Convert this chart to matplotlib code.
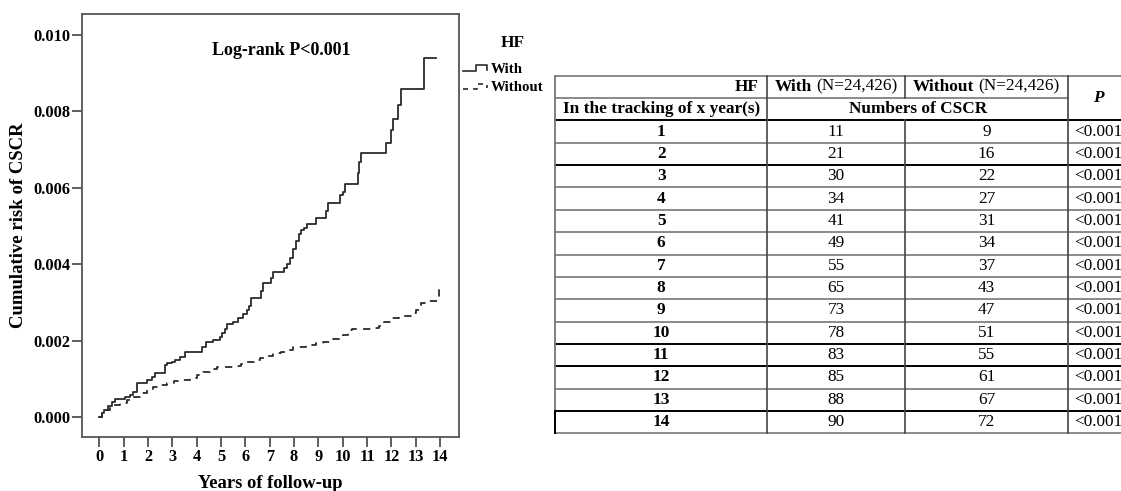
import matplotlib
matplotlib.use("Agg")
import matplotlib.pyplot as plt

plt.rcParams['font.family'] = ['Liberation Serif', 'DejaVu Serif']

# Kaplan-Meier type cumulative risk (step, where='post')
with_t = [0, 0.1, 0.2, 0.37, 0.5, 0.64, 1.05, 1.26, 1.4, 1.53, 1.94, 2.15, 2.28,
          2.68, 2.77, 2.97, 3.1, 3.3, 3.5, 4.2, 4.38, 4.68, 4.96, 5.05, 5.15, 5.25,
          5.5, 5.7, 5.9, 6.05, 6.15, 6.22, 6.65, 6.72, 7.05, 7.15, 7.58, 7.7, 7.85,
          7.95, 8.1, 8.2, 8.3, 8.4, 8.55, 8.9, 9.3, 9.4, 9.9, 10.0, 10.1, 10.64,
          10.68, 10.75, 11.77, 12.0, 12.05, 12.29, 12.4, 13.34, 13.84]
with_r = [0, 0.0001, 0.00019, 0.0003, 0.0004, 0.00048, 0.00054, 0.00058, 0.00067,
          0.00089, 0.00098, 0.00106, 0.00115, 0.00137, 0.00143, 0.00145, 0.0015,
          0.00158, 0.0017, 0.00185, 0.00196, 0.00202, 0.00209, 0.0022, 0.00232,
          0.00243, 0.00248, 0.00259, 0.0027, 0.0028, 0.0029, 0.00312, 0.0033, 0.0035,
          0.00364, 0.0038, 0.0039, 0.004, 0.00417, 0.0044, 0.0046, 0.0048, 0.0049,
          0.00496, 0.00505, 0.0052, 0.0054, 0.0056, 0.0058, 0.0059, 0.0061, 0.0064,
          0.00668, 0.0069, 0.00716, 0.0075, 0.0078, 0.00816, 0.00858, 0.00939, 0.00939]

without_t = [0, 0.1, 0.27, 0.45, 0.6, 0.85, 1.12, 1.4, 1.67, 1.95, 2.21, 2.5, 2.76,
             3.05, 3.31, 3.72, 4.0, 4.27, 4.55, 4.82, 5.5, 5.8, 6.05, 6.35, 6.6, 6.9,
             7.15, 7.45, 7.7, 7.97, 8.5, 8.9, 9.2, 9.6, 10.02, 10.23, 10.4, 11.2, 11.5,
             11.7, 12.0, 12.3, 12.85, 13.0, 13.2, 13.5, 13.93, 13.95]
without_r = [0, 0.0001, 0.0002, 0.00026, 0.00032, 0.00038, 0.00045, 0.00054, 0.00063,
             0.00072, 0.0008, 0.00085, 0.0009, 0.00094, 0.00098, 0.00104, 0.0011,
             0.00119, 0.00126, 0.00132, 0.00134, 0.00139, 0.00144, 0.00149, 0.00154,
             0.0016, 0.00167, 0.00171, 0.00176, 0.00185, 0.00189, 0.00194, 0.00198,
             0.00205, 0.00215, 0.00228, 0.00232, 0.00234, 0.0024, 0.0025, 0.0026,
             0.00265, 0.00272, 0.0028, 0.00298, 0.00305, 0.00315, 0.0035]

x_ticks = list(range(0, 15))
y_ticks = [0.000, 0.002, 0.004, 0.006, 0.008, 0.010]

# table
years = list(range(1, 15))
with_counts = [11, 21, 30, 34, 41, 49, 55, 65, 73, 78, 83, 85, 88, 90]
without_counts = [9, 16, 22, 27, 31, 34, 37, 43, 47, 51, 55, 61, 67, 72]
p_values = ['<0.001'] * 14

W, H = 1121, 491
fig = plt.figure(figsize=(W / 100, H / 100), dpi=100)

# --- survival plot ---
L, R, T, B = 81.7, 459, 14, 436.7
ax = fig.add_axes([L / W, 1 - B / H, (R - L) / W, (B - T) / H])
line_col = '#2b2b2b'
ax.step(with_t, with_r, where='post', color=line_col, lw=1.3)
ax.step(without_t, without_r, where='post', color=line_col, lw=1.3,
        linestyle=(0, (4, 3.5)))
ax.set_xlim(-0.727, 14.78)
ax.set_ylim(-0.000507, 0.010544)
ax.set_xticks(x_ticks)
ax.set_yticks(y_ticks)
ax.set_yticklabels(['%.3f' % v for v in y_ticks])
ax.tick_params(axis='both', direction='out', length=7, width=1.1, color='#333',
               labelsize=11.8)
ax.tick_params(axis='y', pad=1)
ax.tick_params(axis='x', pad=2)
for lab in ax.get_xticklabels() + ax.get_yticklabels():
    lab.set_fontweight('bold')
for sp in ax.spines.values():
    sp.set_color('#555555')
    sp.set_linewidth(1.3)

# overlay in pixel coordinates for free text / table
ov = fig.add_axes([0, 0, 1, 1])
ov.set_xlim(0, W)
ov.set_ylim(H, 0)
ov.axis('off')

ov.text(281, 50, 'Log-rank P<0.001', ha='center', va='center', fontsize=13,
        weight='bold')
ov.text(19, (T + B) / 2, 'Cumulative risk of CSCR', ha='center', va='center',
        rotation=90, fontsize=13.5, weight='bold')
ov.text((L + R) / 2, 484, 'Years of follow-up', ha='center', va='center',
        fontsize=13.4, weight='bold')

# legend
ov.text(513, 43, 'HF', ha='center', va='center', fontsize=12.5, weight='bold')
ov.plot([463, 476, 476, 487, 487], [70.7, 70.7, 65, 65, 69.5], color=line_col, lw=1.2)
ov.plot([463, 477, 477, 487, 487], [88.7, 88.7, 84, 84, 88], color=line_col, lw=1.2,
        linestyle=(0, (3, 3)))
ov.text(491, 69, 'With', ha='left', va='center', fontsize=10.7, weight='bold')
ov.text(491, 87, 'Without', ha='left', va='center', fontsize=10.7, weight='bold')

# --- table ---
fs = 12.4
c0, c1, c2, c3, c4 = 555, 767.3, 905, 1068, 1128
top = 75.7
rh = 22.35
n_rows = len(years) + 2
ys = [top + i * rh for i in range(n_rows + 1)]
grey = '#777777'

# horizontal lines (some of them are darker in the original)
dark_lines = {2, 4, 12, 13, 15}
for i, y in enumerate(ys):
    if i == 1:
        ov.plot([c0, c3], [y, y], color=grey, lw=1.2)
    elif i in dark_lines:
        ov.plot([c0, c4], [y, y], color='black', lw=1.4)
    else:
        ov.plot([c0, c4], [y, y], color=grey, lw=1.2)
# vertical lines
ov.plot([c0, c0], [ys[0], ys[-1]], color=grey, lw=1.3)
ov.plot([c0, c0], [ys[-2], ys[-1]], color='black', lw=1.4)
ov.plot([c1, c1], [ys[0], ys[-1]], color='#444444', lw=1.2)
ov.plot([c2, c2], [ys[0], ys[1]], color='#444444', lw=1.2)
ov.plot([c2, c2], [ys[2], ys[-1]], color='#444444', lw=1.2)
ov.plot([c3, c3], [ys[0], ys[-1]], color='#444444', lw=1.2)

renderer = fig.canvas.get_renderer()


def mixed(cx, cy, bold_part, normal_part):
    t1 = ov.text(0, cy, bold_part, ha='left', va='center', fontsize=fs, weight='bold')
    t2 = ov.text(0, cy, normal_part, ha='left', va='center', fontsize=fs)
    w1 = t1.get_window_extent(renderer).width
    w2 = t2.get_window_extent(renderer).width
    gap = 4
    left = cx - (w1 + gap + w2) / 2
    t1.set_x(left)
    t2.set_x(left + w1 + gap)


hy0 = (ys[0] + ys[1]) / 2
hy1 = (ys[1] + ys[2]) / 2
ov.text(c1 - 9, hy0, 'HF', ha='right', va='center', fontsize=fs, weight='bold')
mixed((c1 + c2) / 2, hy0, 'With', '(N=24,426)')
mixed((c2 + c3) / 2, hy0, 'Without', '(N=24,426)')
ov.text((c3 + c4) / 2, (ys[0] + ys[2]) / 2, 'P', ha='center', va='center',
        fontsize=fs, weight='bold', style='italic')
ov.text((c0 + c1) / 2, hy1, 'In the tracking of x year(s)', ha='center',
        va='center', fontsize=fs, weight='bold')
ov.text((c1 + c3) / 2, hy1, 'Numbers of CSCR', ha='center', va='center',
        fontsize=fs, weight='bold')

for i, yr in enumerate(years):
    cy = (ys[i + 2] + ys[i + 3]) / 2
    ov.text((c0 + c1) / 2, cy, str(yr), ha='center', va='center', fontsize=fs,
            weight='bold')
    ov.text((c1 + c2) / 2, cy, str(with_counts[i]), ha='center', va='center',
            fontsize=fs)
    ov.text((c2 + c3) / 2, cy, str(without_counts[i]), ha='center', va='center',
            fontsize=fs)
    ov.text((c3 + c4) / 2, cy, p_values[i], ha='center', va='center', fontsize=fs)

fig.savefig('out.png', dpi=100)
